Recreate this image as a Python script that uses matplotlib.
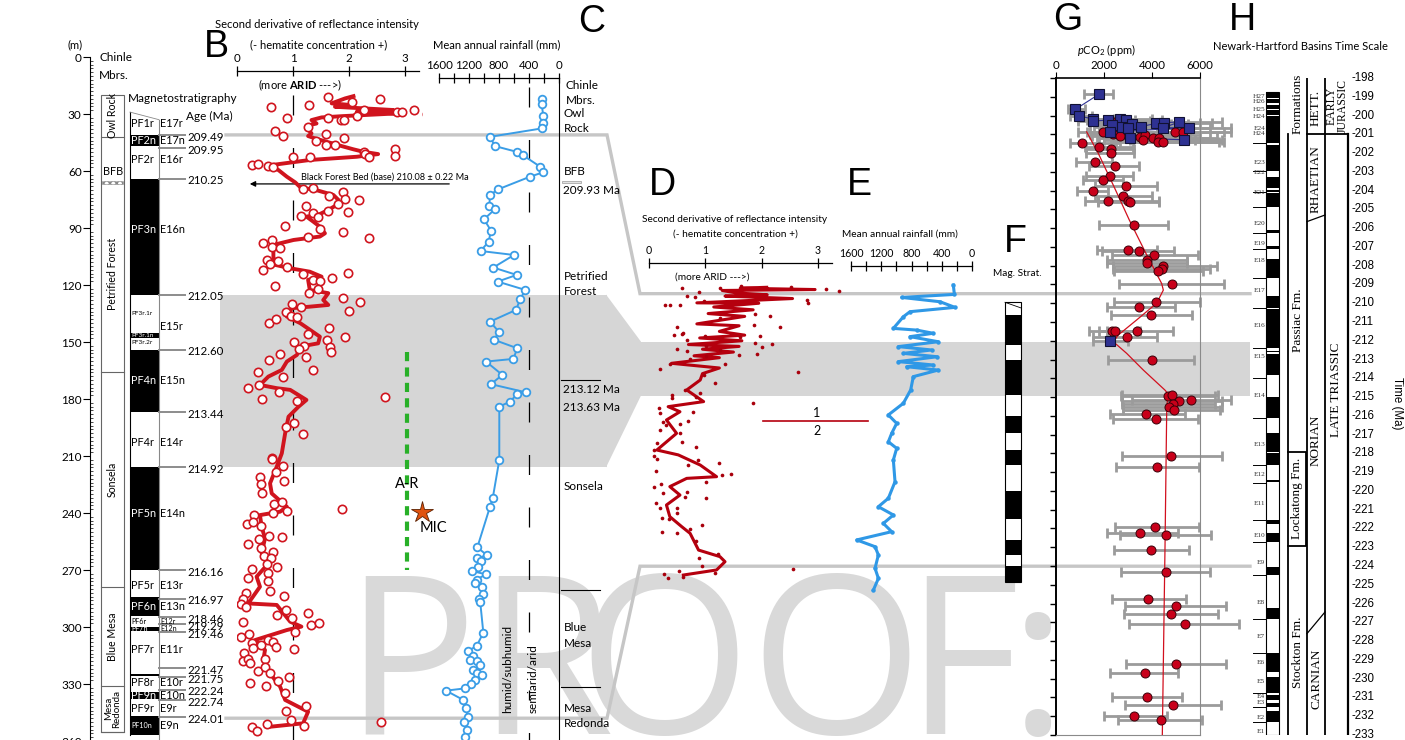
import numpy as np
import matplotlib
matplotlib.use("Agg")
import matplotlib.pyplot as plt
from matplotlib.patches import Rectangle, Polygon
from matplotlib.ticker import MultipleLocator

plt.rcParams['font.family'] = ['Lato', 'DejaVu Sans']
plt.rcParams['font.size'] = 8
plt.rcParams['mathtext.fontset'] = 'custom'
plt.rcParams['mathtext.rm'] = 'Lato'
plt.rcParams['mathtext.it'] = 'Lato:italic'
plt.rcParams['mathtext.bf'] = 'Lato:bold'

# ---------------- data ----------------
# B: second derivative of reflectance (depth m, value)
b_dot_depth = [20.9, 23.5, 22.3, 26.5, 25.3, 28.0, 29.2, 28.8, 30.2, 32.3, 32.3, 33.2, 33.2, 31.1, 28.0,
               37.1, 38.8, 41.6, 40.6, 42.8, 44.1, 46.4, 46.4, 48.6, 52.1, 52.5, 52.8, 49.9, 51.1, 52.5,
               56.9, 56.4, 57.4, 58.1,
               69.1, 69.6, 71.2, 74.7, 73.1, 75.2, 77.3, 78.4, 80.8, 82.2, 83.6, 81.4, 84.3, 88.9, 90.7,
               91.9, 94.5, 95.4, 97.7, 96.3, 99.8, 100.7, 106.8, 108.9, 107.3, 112.1, 110.7, 114.3, 117.3,
               117.7, 116.1, 113.5, 120.5, 122.2, 124.3, 126.6, 128.7, 130.1, 131.7, 134.0, 133.5, 136.3,
               137.0, 140.1, 138.0, 142.8, 145.9, 147.2, 148.9, 150.1, 151.9, 152.4, 155.1, 153.8, 156.5,
               158.0, 159.4, 164.7, 165.9, 168.2, 174.3, 172.6, 176.1, 180.0, 178.7, 181.0, 192.4, 194.5,
               198.4, 211.2,
               211.8, 215.3, 218.6, 220.9, 224.9, 223.0, 229.7, 235.0, 234.1, 239.0, 239.8, 241.1, 238.1,
               246.0, 244.6, 246.9, 252.1, 252.8, 253.9, 256.3, 258.6, 260.7, 262.7, 263.9, 266.9, 269.5,
               268.3, 271.8, 274.1, 275.8, 280.9, 283.7, 282.3, 285.1, 287.9, 289.7, 291.1, 292.5, 293.7,
               297.2, 295.5, 299.0, 298.1, 302.5, 305.1, 303.9, 308.3, 310.9, 306.9, 308.1, 310.7, 309.5,
               311.8, 313.9, 317.7, 317.0, 316.9, 319.1, 323.2, 320.9, 324.1, 329.7, 330.9, 328.3, 326.2,
               334.6, 344.1, 341.6, 349.0, 351.1, 352.8, 354.6, 352.1, 349.8]
b_dot_val = [1.63, 2.06, 2.55, 0.60, 1.29, 3.16, 2.86, 2.94, 3.39, 0.90, 1.63, 1.86, 1.91, 2.14, 2.26,
             1.27, 0.68, 0.83, 1.59, 1.91, 1.41, 1.59, 1.75, 2.82, 2.83, 1.00, 1.30, 2.26, 2.29, 2.35,
             0.26, 0.38, 0.56, 0.64,
             1.35, 1.17, 1.89, 1.93, 1.65, 2.18, 1.80, 1.24, 1.63, 1.36, 1.15, 1.99, 1.45, 0.85, 1.48,
             1.90, 1.27, 2.35, 0.47, 0.62, 0.63, 0.76, 0.54, 0.59, 0.73, 0.46, 0.90, 1.17, 1.35,
             1.49, 1.69, 1.99, 0.67, 1.45, 1.29, 1.90, 2.19, 0.99, 1.14, 0.88, 2.00, 0.96,
             1.08, 0.58, 0.69, 1.65, 1.26, 1.93, 1.60, 1.01, 1.20, 1.66, 1.68, 1.10, 0.76,
             1.23, 0.57, 1.35, 0.38, 0.83, 0.20, 0.40, 0.75, 0.45, 2.65, 1.07, 1.01, 0.88,
             1.18, 0.63,
             0.63, 0.82, 0.70, 0.41, 0.42, 0.84, 0.44, 0.66, 0.80, 0.89, 0.64, 0.30, 1.87,
             0.17, 0.29, 0.43, 0.58, 0.80, 0.40, 0.20, 0.42, 0.65, 0.49, 0.60, 0.53, 0.26,
             0.71, 0.56, 0.20, 0.56, 0.59, 0.84, 0.16, 0.11, 0.08, 0.16, 0.88, 1.26, 0.71,
             0.11, 0.98, 1.32, 1.47, 1.04, 0.08, 0.22, 0.26, 0.29, 0.55, 0.64, 0.69, 0.42,
             1.02, 0.13, 0.11, 0.50, 0.20, 0.23, 0.38, 0.50, 0.59, 0.24, 0.52, 0.74, 0.93,
             0.86, 0.88, 1.24, 0.97, 0.53, 0.27, 0.35, 1.20, 2.57]
b_line_depth = [20.6, 21.8, 24.4, 25.3, 26.2, 27.9, 28.8, 29.7, 31.1, 31.8, 33.2, 35.0, 35.8, 38.1, 40.2,
                41.6, 42.8, 44.6, 46.9, 48.6, 49.9, 51.1, 52.5, 54.2, 57.1, 59.5, 63.0, 66.0, 69.1, 69.6,
                72.6, 75.2, 77.9, 80.5, 83.1, 84.0, 86.6, 89.3, 92.8, 94.5, 96.3, 98.9, 105.1, 109.4,
                111.2, 113.0, 115.6, 117.3, 122.6, 124.3, 127.9, 130.5, 131.4, 132.2, 136.6, 140.1,
                147.2, 150.7, 152.4, 156.8, 160.3, 164.7, 168.2, 172.6, 174.3, 175.2, 180.5, 184.0,
                189.3, 198.0, 208.6, 215.6, 224.4, 229.7, 236.7, 239.3, 241.1, 247.2, 253.4, 261.2,
                265.6, 273.5, 278.8, 287.6, 288.4, 297.2, 299.8, 301.6, 306.9, 312.1, 317.4, 324.4,
                331.4, 338.4, 344.6, 350.7, 352.5]
b_line_val = [2.08, 1.93, 1.69, 2.05, 1.75, 2.79, 2.14, 2.85, 1.90, 1.51, 1.33, 1.42, 1.30, 1.27, 1.33,
              1.27, 1.39, 1.60, 1.87, 2.08, 2.26, 2.52, 2.14, 1.30, 0.56, 0.74, 0.89, 1.04, 1.15, 1.36,
              1.72, 1.81, 1.78, 1.63, 1.45, 1.24, 1.36, 1.48, 1.57, 1.48, 1.01, 0.65, 0.65, 0.68,
              0.95, 1.30, 1.51, 1.27, 1.30, 1.63, 1.54, 1.63, 1.30, 0.98, 0.89, 1.13,
              1.48, 1.45, 1.13, 1.07, 0.89, 0.80, 0.56, 0.41, 0.71, 0.95, 1.24, 1.10,
              0.92, 0.86, 0.80, 0.71, 0.59, 0.62, 0.89, 0.77, 0.41, 0.44, 0.50, 0.44,
              0.59, 0.35, 0.41, 0.20, 0.71, 0.95, 1.15, 0.89, 0.32, 0.50, 0.47, 0.59,
              0.77, 0.86, 1.27, 1.18, 0.59]

# C: mean annual rainfall (depth m, mm)
c_depth = [22.3, 24.8, 31.1, 34.6, 37.6, 42.0, 46.9, 49.9, 51.6, 57.8, 60.7, 63.0, 69.6, 72.6, 78.4,
           80.1, 85.4, 91.4, 97.2, 102.1, 104.2, 110.8, 114.7, 118.2, 122.6, 127.3, 133.1, 139.3, 144.5,
           148.9, 153.3, 158.9, 160.3, 167.3, 172.2, 176.5, 177.5, 181.4, 184.0, 212.1, 232.3, 236.7,
           258.1, 262.1, 263.9, 265.0, 268.3, 270.5, 272.3, 275.0, 277.0, 279.0, 282.6, 285.0, 287.0,
           303.0, 310.0, 312.7, 315.0, 317.4, 318.0, 320.0, 322.7, 324.0, 325.3, 327.9, 330.0, 332.3,
           333.5, 338.4, 342.8, 347.2, 349.8, 354.2, 357.7]
c_rain = [231, 231, 209, 209, 231, 920, 853, 564, 484, 249, 213, 387, 809, 920, 929,
          853, 1000, 907, 938, 1045, 600, 876, 564, 818, 449, 516, 573, 920, 804,
          862, 556, 609, 973, 756, 907, 440, 560, 653, 796, 796, 884, 920,
          1089, 964, 1089, 1040, 1076, 1164, 973, 1100, 1120, 1030, 1009, 1062, 1050,
          1009, 1098, 1218, 1150, 1187, 1100, 1053, 1142, 1090, 1031, 1120, 1180, 1253,
          1506, 1276, 1240, 1218, 1267, 1231, 1253]

# D: reflectance second derivative vs age (Ma)
d_line_age = [209.15, 209.20, 209.27, 209.32, 209.45, 209.55, 209.62, 209.75, 209.98, 210.00, 210.20,
              210.35, 210.55, 210.70, 211.10, 211.20, 211.50, 211.70, 211.85, 212.00, 212.20, 212.30,
              212.45, 212.60, 212.80, 212.90, 213.20, 213.45, 213.75, 214.09, 214.62, 215.24, 215.51,
              215.78, 216.22, 216.93, 217.82, 218.08, 218.62, 219.24, 219.33, 219.77, 220.22, 220.75,
              221.37, 221.90, 222.26, 223.15, 223.50, 223.77, 224.21, 224.48]
d_line_val = [2.09, 1.62, 2.95, 1.30, 1.55, 2.10, 1.35, 2.55, 0.85, 1.95, 1.15,
              1.85, 1.05, 1.70, 0.85, 1.60, 1.25, 1.70, 0.90, 1.65, 0.70, 1.60,
              0.95, 1.50, 0.80, 1.25, 0.40, 1.25, 0.95, 0.91, 0.67, 0.97, 0.34,
              0.55, 0.31, 0.49, 0.14, 0.52, 0.91, 1.20, 0.67, 0.37, 0.55, 0.31,
              0.37, 0.58, 0.73, 0.88, 1.26, 1.35, 1.20, 0.61]
d_dot_age = [209.21, 209.38, 209.21, 209.08, 209.12, 209.26, 209.33, 209.61, 209.69, 209.86, 210.09,
             210.09, 210.11, 209.83, 209.97, 210.80, 210.59, 210.68, 211.16, 211.25, 211.28, 211.69,
             211.57, 211.66, 211.75, 211.78, 211.75, 211.96, 212.28, 212.14, 212.31, 212.19, 212.44,
             212.53, 212.79, 212.76, 212.72, 212.49, 213.26, 213.52, 212.99, 214.23, 213.24, 213.82,
             213.65, 214.76, 214.98, 214.89,
             215.33, 215.07, 214.62, 215.60, 215.87, 216.31, 216.49, 216.43, 216.26, 215.80, 216.75,
             216.93, 217.38, 217.46, 217.82, 218.14, 218.32, 217.64, 218.35, 218.49, 218.62, 219.10,
             219.17, 219.51, 218.94, 219.77, 219.65, 220.09, 220.04, 220.31, 220.39, 220.63, 220.93,
             220.93, 221.42, 221.51, 221.19, 221.83, 222.20, 222.26, 222.05, 222.65, 223.59, 224.00,
             223.36, 224.25, 224.44, 224.66, 224.35, 224.60, 224.14]
d_dot_val = [0.59, 0.89, 1.26, 1.63, 2.53, 3.14, 3.38, 0.67, 0.82, 0.97, 0.28,
             0.37, 0.55, 2.80, 2.83, 1.26, 1.88, 2.15, 1.87, 2.33, 0.49, 0.44,
             0.61, 0.58, 1.00, 1.62, 1.97, 0.67, 1.02, 1.88, 2.00, 2.18, 0.49,
             0.67, 1.01, 1.59, 1.91, 1.26, 0.37, 0.19, 0.73, 1.17, 1.35, 0.97,
             2.65, 0.91, 0.83, 0.40,
             1.85, 0.40, 0.64, 0.17, 0.19, 0.25, 0.31, 0.55, 0.70, 0.79, 0.19,
             0.55, 0.58, 0.15, 0.08, 0.08, 0.15, 0.83, 0.87, 1.25, 0.70, 1.46,
             1.30, 1.02, 0.12, 0.08, 0.22, 0.25, 0.67, 0.64, 1.01, 0.12, 0.19,
             0.49, 0.23, 0.36, 0.49, 0.94, 0.23, 0.50, 0.73, 0.83, 0.88, 0.95,
             1.23, 0.54, 0.27, 0.34, 1.17, 0.61, 2.55]

# E: mean annual rainfall vs age (Ma)
e_age = [209.03, 209.53, 209.69, 209.92, 210.22, 210.45, 210.72, 211.34, 211.43, 211.60, 211.78, 212.05,
         212.31, 212.49, 212.67, 212.85, 213.11, 213.29, 213.38, 213.56, 213.91, 214.62, 215.33, 215.95,
         216.40, 216.93, 217.38, 217.73, 218.35, 219.51, 220.39, 220.84, 221.28, 221.73, 222.17, 222.61,
         222.97, 223.41, 224.12, 224.66, 225.28]
e_rain = [247, 233, 930, 423, 225, 820, 908, 1040, 733, 513, 820, 446,
          974, 535, 908, 460, 974, 513, 864, 446, 776, 811, 908, 1106,
          996, 1062, 1106, 996, 1040, 1018, 1106, 1238, 1040, 1172, 1062, 1524,
          1282, 1238, 1282, 1238, 1304]

# G: pCO2 from paleosol carbonates (age Ma, ppm, error low, error high)
g_red_age = [200.30, 200.45, 200.87, 201.00, 201.08, 201.17, 201.12, 201.04, 201.30, 201.17, 201.17,
             201.40, 201.43, 200.87, 200.87, 201.46, 201.68, 201.77, 202.00, 202.50, 202.70, 203.20,
             203.45, 203.78, 204.00, 204.30, 204.55, 204.55, 204.60, 205.85, 207.14, 207.20, 207.43,
             207.71, 207.85, 208.00, 208.20, 208.30, 209.00, 209.92, 210.20, 210.65, 211.46, 211.46,
             211.46, 211.80, 213.00, 214.92, 214.89, 215.14, 215.21, 215.39, 215.53, 215.67, 215.92,
             216.15, 218.14, 218.74, 221.94, 222.24, 222.33, 223.13, 224.30, 225.75, 226.14, 226.55,
             227.07, 229.23, 229.71, 230.99, 231.40, 232.00, 232.18]
g_red_co2 = [2528, 3153, 1944, 2361, 2667, 3042, 3500, 3722, 3625, 4056, 4278,
             4264, 4472, 4958, 5306, 1097, 1806, 2278, 2278, 1640, 2458, 2264,
             1972, 2930, 1542, 2805, 2153, 3014, 3070, 3236, 2986, 3444, 4097,
             3792, 3792, 4472, 4430, 4264, 4820, 4153, 3458, 3944, 2333, 2472,
             3389, 2944, 3986, 4653, 4834, 5639, 5125, 4861, 4722, 4903, 3736,
             4181, 4806, 4222, 4111, 3500, 4570, 3958, 4597, 3847, 4986, 4806,
             5389, 5014, 3694, 3805, 4875, 3250, 4361]
g_red_lo = [1400, 1800, 900, 1400, 1500, 1700, 2000, 2100, 2000, 2300, 2400,
            2400, 2500, 2700, 3000, 583, 1208, 1250, 1250, 833, 1375, 1236,
            1111, 1625, 861, 1625, 1208, 1764, 1764, 1792, 1694, 1903, 2319,
            2111, 2111, 2389, 2389, 2417, 2611, 2417, 2111, 2292, 1389, 1806,
            2111, 1556, 2181, 2708, 2736, 3153, 2736, 2736, 2778, 2778, 2250,
            2361, 2736, 2500, 2458, 2139, 2667, 2417, 2694, 2319, 2875, 2833,
            3056, 2917, 2250, 2319, 2875, 2000, 2597]
g_red_hi = [3900, 5500, 3000, 3700, 4200, 4900, 5600, 6000, 5800, 6400, 6700,
            6800, 7000, 7000, 7300, 2667, 3222, 3250, 3250, 2319, 3472, 3194,
            2805, 4194, 2180, 3986, 2990, 4292, 4292, 4667, 4222, 4917, 5931,
            5444, 5444, 6694, 6417, 6139, 7000, 6000, 4958, 5681, 3361, 3500,
            4889, 4194, 5750, 6625, 6764, 7278, 6903, 6625, 6903, 6833, 5375,
            5931, 6903, 5972, 5972, 5083, 6444, 5556, 6417, 5417, 7083, 6764,
            7639, 7083, 5083, 5250, 6875, 4611, 6097]
g_blue_age = [198.85, 199.67, 200.02, 200.18, 200.30, 200.24, 200.18, 200.24, 200.50, 200.45, 200.59,
              200.65, 200.59, 200.42, 200.38, 200.34, 200.65, 200.65, 200.88, 201.20, 201.29, 212.00]
g_blue_co2 = [1806, 806, 944, 1528, 1528, 2153, 2660, 2900, 2320, 3180, 2736,
              2986, 3540, 4153, 4514, 5140, 4472, 5528, 2250, 3100, 5333, 2236]
g_blue_lo = [1180, 500, 600, 900, 900, 1300, 1600, 1700, 1400, 1900, 1600,
             1800, 2100, 2400, 2600, 3000, 2600, 3200, 1300, 1800, 3100, 1550]
g_blue_hi = [2360, 1200, 1500, 2400, 2500, 3300, 4000, 4400, 3600, 4800, 4200,
             4600, 5300, 6000, 6500, 6900, 6400, 7300, 3500, 4700, 6900, 3000]
g_fit_age = [200.87, 202.02, 203.79, 205.57, 207.35, 208.95, 209.30, 210.00, 210.89, 211.69, 212.05,
             212.67, 213.56, 214.63, 214.80, 215.90, 223.00, 233.00]
g_fit_co2 = [1278, 1764, 2417, 3056, 3750, 4403, 4472, 4194, 3361, 2597, 2389,
             2944, 3639, 4542, 4653, 4611, 4542, 4430]

# Chinle members (top, bottom depth m)
members = ["Owl Rock", "Petrified Forest", "Sonsela", "Blue Mesa", "Mesa\nRedonda"]
member_top = [20, 42, 166, 279, 331]
member_bot = [42, 166, 279, 331, 355]

# Petrified Forest magnetostratigraphy
pf_black_top = [41, 64, 145, 154, 216, 284, 300, 324.5, 334, 347]
pf_black_bot = [47, 125, 148, 187, 270, 294, 302, 326, 338, 357]
pf_names = ["PF1r", "PF2n", "PF2r", "PF3n", "PF3r.1r", "PF3r.1n", "PF3r.2r", "PF4n", "PF4r", "PF5n",
            "PF5r", "PF6n", "PF6r", "PF7n", "PF7r", "PF8r", "PF9n", "PF9r", "PF10n"]
pf_label_depth = [35, 44, 54, 91, 135, 146.5, 150.5, 170, 203, 240, 278, 289, 297, 301, 312, 329, 336, 343, 352]
e_names_left = ["E17r", "E17n", "E16r", "E16n", "", "", "", "E15n", "E14r", "E14n",
                "E13r", "E13n", "E12r", "E12n", "E11r", "E10r", "E10n", "E9r", "E9n"]
ages = ["209.49", "209.95", "210.25", "212.05", "212.60", "213.44", "214.92", "216.16", "216.97",
        "218.46", "219.29", "219.46", "221.47", "221.75", "222.24", "222.74", "224.01"]
age_depth = [41, 48, 64, 125, 154, 187, 216, 270, 285, 294.7, 298.6, 302.8, 321.6, 326.3, 333, 338.4, 347.4]

# F: magnetostratigraphy (age Ma)
f_black_top = [210.6, 213.0, 216.0, 217.8, 220.0, 222.6, 224.0]
f_black_bot = [212.2, 214.9, 216.9, 218.6, 221.5, 223.4, 224.85]

# H: Newark-Hartford polarity (age Ma)
h_black_top = [198.73, 199.12, 199.42, 199.72, 200.05, 201.55, 203.30, 203.95, 204.15, 206.10, 206.95,
               207.63, 209.62, 210.33, 212.55, 212.70, 215.00, 216.93, 217.98, 219.40, 221.55, 222.26,
               224.03, 226.25, 228.65, 229.90, 230.88, 231.30, 231.72]
h_black_bot = [199.05, 199.35, 199.65, 199.95, 201.45, 202.95, 203.85, 204.05, 204.85, 206.27, 207.10,
               208.65, 210.24, 212.37, 212.62, 213.80, 216.14, 217.91, 218.60, 219.50, 221.76, 222.70,
               224.47, 226.84, 229.63, 230.78, 231.15, 231.50, 232.30]
h_chrons = ["H27", "H26", "H25", "H24", "E24", "H24", "E23", "E22", "E21", "E20", "E19", "E18", "E17",
            "E16", "E15", "E14", "E13", "E12", "E11", "E10", "E9", "E8", "E7", "E6", "E5", "E4", "E3",
            "E2", "E1"]
h_chron_age = [199.0, 199.26, 199.67, 200.06, 200.68, 200.95, 202.5, 203.06, 204.08, 205.74, 206.8,
               207.73, 209.33, 211.16, 212.85, 214.89, 217.55, 219.15, 220.66, 222.35, 223.82, 225.95,
               227.76, 229.15, 230.16, 230.96, 231.28, 232.06, 232.83]
h_bounds = [201.45, 202.95, 204.05, 204.85, 206.27, 207.1, 208.65, 210.24, 212.37, 214.0, 216.14,
            218.6, 219.6, 221.55, 222.7, 224.47, 226.84, 228.65, 230.78, 231.5, 232.3]

# watermark letters
wm_letters = ["P", "R", "O", "O", "F", ":"]
wm_centers = [410, 545, 664, 836, 962, 1038]

# ---------------- layout ----------------
W, H = 1405, 740
fig = plt.figure(figsize=(W / 100, H / 100), dpi=100)

D0, DPM, DMAX = 57, 1.9, 360        # depth axes: pixel of 0 m, px per m
T0, TPM, TMIN, TMAX = 78, 18.77, 198, 233   # time axes


def dpx(d):
    return D0 + d * DPM


def tpx(t):
    return T0 + (t - TMIN) * TPM


def px_axes(x0, y0, x1, y1, z=1):
    ax = fig.add_axes([x0 / W, 1 - y1 / H, (x1 - x0) / W, (y1 - y0) / H])
    ax.set_zorder(z)
    ax.patch.set_alpha(0)
    return ax


RED = '#d0141e'
DRED = '#b5000e'
BLUE = '#3a9de6'
BAND = '#d6d6d6'
LGRAY = '#c6c6c6'

# background: bands, connector lines, watermark, headings
bg = px_axes(0, 0, W, H, z=0)
bg.set_xlim(0, W)
bg.set_ylim(H, 0)
bg.axis('off')

bg.fill_between([220, 607], dpx(125), dpx(216), color=BAND, lw=0)
bg.add_patch(Polygon([(606, dpx(125)), (641, tpx(212.05)), (641, tpx(214.92)), (606, dpx(216))],
                     closed=True, fc=BAND, ec='none'))
bg.fill_between([640, 1250], tpx(212.05), tpx(214.92), color=BAND, lw=0)
bg.plot([226, 607, 640, 1250], [dpx(41), dpx(41), tpx(209.49), tpx(209.49)], color=LGRAY, lw=2.4,
        solid_joinstyle='miter')
bg.plot([226, 607, 640, 1250], [dpx(348), dpx(348), tpx(224.01), tpx(224.01)], color=LGRAY, lw=2.4,
        solid_joinstyle='miter')

for ch, xc in zip(wm_letters, wm_centers):
    bg.text(xc, 734, ch, fontsize=160, color='#d9d9d9', family=['Open Sans', 'DejaVu Sans'],
            ha='center', va='baseline', zorder=0)

big = dict(fontsize=27, family=['Liberation Sans', 'DejaVu Sans'], va='center', ha='center')
bg.text(216, 47, "B", **big)
bg.text(592, 22, "C", **big)
bg.text(662, 185, "D", **big)
bg.text(859, 185, "E", **big)
bg.text(1015, 242, "F", **big)
bg.text(1068, 20, "G", **big)
bg.text(1242, 20, "H", **big)

small = dict(fontsize=8, va='center', ha='center')
bg.text(317, 25, "Second derivative of reflectance intensity", **small)
bg.text(319, 45, "(- hematite concentration +)", **small)
bg.text(300, 85, r"(more $\mathbf{ARID}$ --->)", **small)
bg.text(497, 45, "Mean annual rainfall (mm)", **small)
bg.text(735, 219, "Second derivative of reflectance intensity", fontsize=7.3, va='center', ha='center')
bg.text(735, 234, "(- hematite concentration +)", fontsize=7.3, va='center', ha='center')
bg.text(712, 277, "(more ARID --->)", fontsize=7.3, va='center', ha='center')
bg.text(900, 234, "Mean annual rainfall (mm)", fontsize=7.3, va='center', ha='center')
bg.text(1017, 274, "Mag. Strat.", fontsize=7.3, va='center', ha='center')
bg.text(1107, 50, r"$p$CO$_2$ (ppm)", fontsize=8, va='center', ha='center')
bg.text(1300, 47, "Newark-Hartford Basins Time Scale", fontsize=8, va='center', ha='center')

bg.annotate("", xy=(247, dpx(66.8)), xytext=(452, dpx(66.8)),
            arrowprops=dict(arrowstyle='-|>', color='k', lw=0.9, mutation_scale=8))
bg.text(385, 177, "Black Forest Bed (base) 210.08 \u00b1 0.22 Ma", fontsize=6.6, ha='center', va='center')

bg.plot([763, 868], [421, 421], color=DRED, lw=1.2)
bg.text(817, 413, "1", fontsize=9, ha='center', va='center')
bg.text(817, 431, "2", fontsize=9, ha='center', va='center')

# ---------------- left stratigraphy (x in pixels, y in depth) ----------------
axL = px_axes(0, D0, 620, dpx(DMAX))
axL.set_xlim(0, 620)
axL.set_ylim(DMAX, 0)
for s in ['top', 'right', 'bottom']:
    axL.spines[s].set_visible(False)
axL.spines['left'].set_position(('data', 90))
axL.set_xticks([])
axL.set_yticks(np.arange(0, 361, 30))
axL.yaxis.set_minor_locator(MultipleLocator(2))
axL.tick_params(axis='y', which='major', length=5, width=0.8, pad=1, labelsize=8.5)
axL.tick_params(axis='y', which='minor', length=2.5, width=0.5, direction='in')
axL.text(75, -6.5, "(m)", fontsize=8, ha='center', va='center')
axL.text(99, 0.5, "Chinle", fontsize=8.5, ha='left', va='center')
axL.text(99, 9.5, "Mbrs.", fontsize=8.5, ha='left', va='center')

# member column
axL.add_patch(Rectangle((101, member_top[0]), 23, member_bot[-1] - member_top[0], fill=False,
                        ec='#666', lw=0.8))
for top, bot, name in zip(member_top, member_bot, members):
    axL.plot([101, 124], [bot, bot], color='#666', lw=0.8)
    if name == "Petrified Forest":
        yc = 114
    else:
        yc = (top + bot) / 2
    axL.text(112.5, yc, name, rotation=90, fontsize=7.6 if "\n" not in name else 7,
             ha='center', va='center', linespacing=0.95)
axL.text(103, 60.5, "BFB", fontsize=7.8, ha='left', va='center')
axL.add_patch(Rectangle((102, 65), 21, 1.8, fc='white', ec='#888', lw=0.4, hatch='xxxxx'))

# magnetostratigraphy column
axL.text(128, 22, "Magnetostratigraphy", fontsize=8.5, ha='left', va='center')
axL.text(186, 31.5, "Age (Ma)", fontsize=8.5, ha='left', va='center')
axL.plot([130, 130], [29, 357], color='k', lw=0.8)
axL.plot([159, 159], [33, 359], color='#888', lw=0.8)
axL.plot([130, 159], [29, 33], color='#888', lw=0.6)
for top, bot in zip(pf_black_top, pf_black_bot):
    axL.fill_between([130, 159], top, bot, color='k', lw=0)
for name, ename, d in zip(pf_names, e_names_left, pf_label_depth):
    black = any(t <= d <= b for t, b in zip(pf_black_top, pf_black_bot))
    fs = 7.8 if '.' not in name else 4.6
    if name in ("PF6r", "PF7n", "PF10n"):
        fs = 5.2
    axL.text(131, d, name, fontsize=fs, color='white' if black else 'k', ha='left', va='center')
    if ename:
        efs = 5.2 if ename in ("E12r", "E12n") else 7.8
        axL.text(160, d, ename, fontsize=efs, ha='left', va='center')
axL.text(160, 142, "E15r", fontsize=7.8, ha='left', va='center')
for lab, d in zip(ages, age_depth):
    axL.plot([159, 185], [d, d], color='#8c8c8c', lw=1.4)
    axL.text(187, d + 1.2, lab, fontsize=8.3, ha='left', va='center')

# right-hand member labels of panel C
rl = dict(fontsize=8.5, ha='left', va='center')
axL.text(565, 15, "Chinle", **rl)
axL.text(566, 23, "Mbrs.", **rl)
axL.text(564, 29.5, "Owl", **rl)
axL.text(564, 37.5, "Rock", **rl)
axL.text(564, 60.5, "BFB", **rl)
axL.add_patch(Rectangle((562, 65), 19, 1.5, fc='#e2e2e2', ec='#999', lw=0.5))
axL.text(563, 70.5, "209.93 Ma", **rl)
axL.text(564, 115.5, "Petrified", **rl)
axL.text(564, 123.5, "Forest", **rl)
axL.plot([561, 600], [170, 170], color='k', lw=0.8)
axL.text(563, 175, "213.12 Ma", **rl)
axL.text(563, 184.5, "213.63 Ma", **rl)
axL.text(564, 226, "Sonsela", **rl)
axL.plot([561, 600], [280.5, 280.5], color='k', lw=0.8)
axL.text(564, 300.5, "Blue", **rl)
axL.text(564, 308.5, "Mesa", **rl)
axL.plot([561, 600], [331.5, 331.5], color='k', lw=0.8)
axL.text(564, 343, "Mesa", **rl)
axL.text(564, 351, "Redonda", **rl)


def scale_bar(ax, frac, lo, hi, major, minor=None):
    for s in ['left', 'right', 'bottom']:
        ax.spines[s].set_visible(False)
    ax.spines['top'].set_position(('axes', frac))
    ax.spines['top'].set_bounds(lo, hi)
    ax.spines['top'].set_linewidth(0.9)
    ax.xaxis.set_ticks_position('top')
    ax.set_xticks(major)
    if minor is not None:
        ax.set_xticks(minor, minor=True)
    ax.tick_params(axis='x', which='both', direction='inout', length=7, width=0.9, pad=1.5,
                   labelsize=8.3)
    ax.set_yticks([])


# ---------------- B ----------------
axB = px_axes(237, D0, 237 + 3.3 * 56, dpx(DMAX), z=2)
axB.set_xlim(0, 3.3)
axB.set_ylim(DMAX, 0)
scale_bar(axB, (dpx(DMAX) - 71) / (dpx(DMAX) - D0), 0, 3.25, [0, 1, 2, 3])
axB.plot([1, 1], [20, DMAX], color='k', lw=0.9, dashes=(16, 26))
axB.plot(b_line_val, b_line_depth, color=RED, lw=2.8, solid_joinstyle='round', zorder=3)
axB.plot(b_dot_val, b_dot_depth, ls='none', marker='o', ms=6, mfc='white', mec=RED, mew=1.2, zorder=4)
axB.plot([3.04, 3.04], [155, 270], color='#28b028', lw=3, dashes=(2.2, 1.5))
axB.text(3.04, 224.5, "A-R", fontsize=10.5, ha='center', va='center')
axB.plot([3.30], [239.5], marker='*', ms=16, mfc='#e0520e', mec='#5a2000', mew=0.6, clip_on=False)
axB.text(3.5, 248, "MIC", fontsize=10.5, ha='center', va='center', clip_on=False)

# ---------------- C ----------------
axC = px_axes(439, D0, 559, dpx(DMAX), z=2)
axC.set_xlim(1600, 0)
axC.set_ylim(DMAX, 0)
scale_bar(axC, (dpx(DMAX) - 78) / (dpx(DMAX) - D0), 1600, 0, [1600, 1200, 800, 400, 0],
          [1400, 1000, 600, 200])
axC.spines['right'].set_visible(True)
axC.spines['right'].set_bounds(DMAX, (78 - D0) / DPM)
axC.plot([400, 400], [16, 312], color='k', lw=0.9, dashes=(16, 26))
axC.plot([400, 400], [333, DMAX], color='k', lw=0.9, dashes=(8, 26))
axC.plot(c_rain, c_depth, color=BLUE, lw=1.4, marker='o', ms=5.5, mfc='white', mec=BLUE, mew=1.3,
         zorder=3)
axC.text(680, 322, "humid/subhumid", rotation=90, fontsize=8.5, ha='center', va='center')
axC.text(350, 327, "semiarid/arid", rotation=90, fontsize=8.5, ha='center', va='center')

# ---------------- right panels (x in pixels, y in -age) ----------------
axR = px_axes(620, T0, W, tpx(TMAX))
axR.set_xlim(620, W)
axR.set_ylim(-TMAX, -TMIN)
axR.axis('off')

# F column
axR.add_patch(Rectangle((1005, -224.85), 16, 224.85 - 209.95, fc='white', ec='k', lw=0.8))
for top, bot in zip(f_black_top, f_black_bot):
    axR.fill_between([1005, 1021], -top, -bot, color='k', lw=0)
axR.plot([1005, 1021], [-209.95, -210.25], color='k', lw=0.6)

# H column
axR.add_patch(Rectangle((1266, -233.0), 13, 233.0 - 198.73, fc='white', ec='k', lw=0.8))
for top, bot in zip(h_black_top, h_black_bot):
    axR.fill_between([1266, 1279], -top, -bot, color='k', lw=0)
serif = ['Liberation Serif', 'DejaVu Serif']
for name, t in zip(h_chrons, h_chron_age):
    axR.text(1265, -t, name, fontsize=5.2, family=serif, ha='right', va='center', color='#333')
for t in h_bounds:
    axR.plot([1253, 1266], [-t, -t], color='k', lw=0.7)

axR.plot([1288, 1288], [-201.0, -TMAX], color='k', lw=1.3)
axR.plot([1288, 1306, 1306, 1288], [-217.93, -217.93, -222.95, -222.95], color='k', lw=1.3)
axR.plot([1307, 1307], [-197.7, -TMAX], color='k', lw=1.3)
axR.plot([1325, 1325], [-197.7, -TMAX], color='k', lw=1.3)
axR.plot([1307, 1348], [-201.0, -201.0], color='k', lw=1.3)
axR.plot([1348, 1348], [-201.0, -TMAX], color='k', lw=1.6)
axR.plot([1307, 1325], [-205.65, -205.3], color='k', lw=0.9)
axR.plot([1307, 1325], [-227.6, -226.45], color='k', lw=0.9)
rt = dict(rotation=90, family=serif, ha='center', va='center', fontsize=9.5)
axR.text(1298, -199.4, "Formations", **rt)
axR.text(1298, -210.9, "Passiac Fm.", **rt)
axR.text(1297, -220.4, "Lockatong Fm.", **rt)
axR.text(1298, -228.6, "Stockton Fm.", **rt)
axR.text(1316, -199.6, "HETT.", **rt)
axR.text(1316, -203.4, "RHAETIAN", **rt)
axR.text(1316, -217.3, "NORIAN", **rt)
axR.text(1316, -230.0, "CARNIAN", **rt)
axR.text(1337, -199.5, "EARLY\nJURASSIC", rotation=90, family=serif, ha='center', va='center',
         fontsize=8.5, linespacing=0.85)
axR.text(1336, -214.6, "LATE TRIASSIC", **rt)
for t in range(TMIN, TMAX + 1):
    axR.text(1351, -t, f"-{t}", fontsize=8.3, family=['Liberation Sans', 'DejaVu Sans'],
             ha='left', va='center')
axR.text(1397, -215.3, "Time (Ma)", rotation=270, fontsize=8.3,
         family=['Liberation Sans', 'DejaVu Sans'], ha='center', va='center')

# ---------------- D ----------------
axD = px_axes(649, T0, 649 + 3.3 * 56.3, tpx(TMAX), z=2)
axD.set_xlim(0, 3.3)
axD.set_ylim(-TMAX, -TMIN)
scale_bar(axD, (tpx(TMAX) - 263) / (tpx(TMAX) - T0), 0, 3.25, [0, 1, 2, 3])
axD.tick_params(axis='x', labelsize=7.6)
axD.plot(d_line_val, [-a for a in d_line_age], color=DRED, lw=2.2, zorder=3)
axD.scatter(d_dot_val, [-a for a in d_dot_age], s=7, color='#a8000c', lw=0, zorder=4, clip_on=False)

# ---------------- E ----------------
axE = px_axes(851, T0, 972, tpx(TMAX), z=2)
axE.set_xlim(1600, 0)
axE.set_ylim(-TMAX, -TMIN)
scale_bar(axE, (tpx(TMAX) - 266) / (tpx(TMAX) - T0), 1600, 0, [1600, 1200, 800, 400, 0],
          [1400, 1000, 600, 200])
axE.tick_params(axis='x', labelsize=7.6)
axE.plot(e_rain, [-a for a in e_age], color='#2f98e6', lw=2.2, marker='o', ms=2.2, zorder=3)

# ---------------- G ----------------
axG = px_axes(1056, T0, 1200, tpx(TMAX), z=2)
axG.set_xlim(0, 6000)
axG.set_ylim(-TMAX, -TMIN)
axG.xaxis.tick_top()
axG.set_xticks([0, 2000, 4000, 6000])
axG.set_yticks(np.arange(-TMAX, -TMIN + 1, 1))
axG.set_yticklabels([])
axG.tick_params(axis='x', direction='out', length=4, pad=1, labelsize=8.3)
axG.tick_params(axis='y', direction='out', length=4, width=1)
axG.spines['top'].set_linewidth(1.2)
axG.spines['left'].set_linewidth(1.4)
axG.spines['right'].set_color('#8a8a8a')
axG.spines['bottom'].set_color('#8a8a8a')
red_y = [-a for a in g_red_age]
blue_y = [-a for a in g_blue_age]
axG.errorbar(g_red_co2, red_y,
             xerr=[np.subtract(g_red_co2, g_red_lo), np.subtract(g_red_hi, g_red_co2)],
             fmt='none', ecolor='#9b9b9b', elinewidth=2, capsize=3.5, capthick=2, clip_on=False, zorder=2)
axG.errorbar(g_blue_co2, blue_y,
             xerr=[np.subtract(g_blue_co2, g_blue_lo), np.subtract(g_blue_hi, g_blue_co2)],
             fmt='none', ecolor='#9b9b9b', elinewidth=2, capsize=3.5, capthick=2, clip_on=False, zorder=2)
axG.plot(g_blue_co2[:-1], blue_y[:-1], color='#2e3192', lw=0.8, zorder=3)
axG.plot(g_fit_co2, [-a for a in g_fit_age], color='#d2101e', lw=0.9, zorder=3)
axG.plot(g_red_co2, red_y, ls='none', marker='o', ms=6.5, mfc='#c8001a', mec='#3a0008', mew=0.7, zorder=4)
axG.plot(g_blue_co2, blue_y, ls='none', marker='s', ms=6.5, mfc='#2e3192', mec='#111133', mew=0.8,
         zorder=5)

fig.savefig("out.png", dpi=100)
